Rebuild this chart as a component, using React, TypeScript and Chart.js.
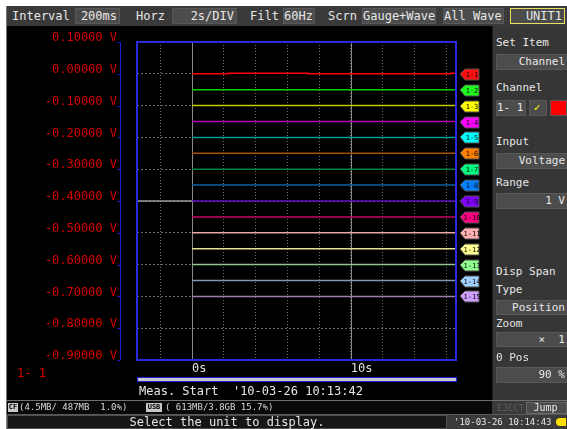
import React, { useEffect, useRef } from 'react';
import { Chart, registerables } from 'chart.js';

Chart.register(...registerables);

// ---------- data ----------
const channelNames = ['1- 1', '1- 2', '1- 3', '1- 4', '1- 5', '1- 6', '1- 7', '1- 8', '1- 9', '1-10', '1-11', '1-12', '1-13', '1-14', '1-15'];
const channelLevels = [0.0, -0.05, -0.1, -0.15, -0.2, -0.25, -0.3, -0.35, -0.4, -0.45, -0.5, -0.55, -0.6, -0.65, -0.7];
const traceColors = ['#ff0000', '#00d400', '#c8c800', '#b000b0', '#009a9a', '#a05000', '#008040', '#1060a0', '#6010c0', '#c80064', '#e8a8a8', '#e0e090', '#90c890', '#8098b8', '#9a80b0'];
const tagColors = ['#ff1010', '#20ff20', '#ffff00', '#ff00ff', '#00ffff', '#ff8000', '#00ff80', '#0080ff', '#8000ff', '#ff0080', '#ffb0b0', '#ffff90', '#90ff90', '#a0d0ff', '#d0a0ff'];
const ch1Times = [0, 2.3, 2.3, 7.3, 7.3, 16.3, 16.3, 16.63];
const ch1Values = [0, 0, 0.0015, 0.0015, 0, 0, 0.0015, 0.0015];
const preTriggerTimes = [-3.47, 0];
const preTriggerValues = [-0.4, -0.4];
const voltMin = -0.9;
const voltMax = 0.1;
const voltStep = 0.1;
const timeMin = -3.47;
const timeMax = 16.63;
const timeStep = 2;
const timeLabels: Record<string, string> = { '0': '0s', '10': '10s' };
const markerTimes = [0, 10];

const mono = '"DejaVu Sans Mono", monospace';

const overlayPlugin = {
  id: 'overlay',
  beforeDatasetsDraw(chart: any) {
    const { ctx, chartArea: a, scales } = chart;
    ctx.save();
    ctx.strokeStyle = '#8a8a8a';
    ctx.lineWidth = 1;
    markerTimes.forEach((t) => {
      const x = Math.round(scales.x.getPixelForValue(t)) + 0.5;
      ctx.beginPath();
      ctx.moveTo(x, a.top);
      ctx.lineTo(x, a.bottom);
      ctx.stroke();
    });
    ctx.restore();
  },
  afterDatasetsDraw(chart: any) {
    const { ctx, chartArea: a, scales } = chart;
    ctx.save();
    // frame
    ctx.strokeStyle = '#2a2ae0';
    ctx.lineWidth = 2;
    ctx.strokeRect(a.left, a.top, a.right - a.left, a.bottom - a.top);
    // axis bracket
    const bx = a.left - 16.5;
    ctx.strokeStyle = '#1c1cd0';
    ctx.lineWidth = 1;
    ctx.beginPath();
    ctx.moveTo(bx, a.top);
    ctx.lineTo(bx, a.bottom);
    scales.y.ticks.forEach((tk: any) => {
      const y = Math.round(scales.y.getPixelForValue(tk.value)) + 0.5;
      ctx.moveTo(bx - 3, y);
      ctx.lineTo(bx, y);
    });
    ctx.stroke();
    // channel tags
    channelLevels.forEach((lv, i) => {
      const y = Math.round(scales.y.getPixelForValue(lv));
      const x0 = a.right + 4;
      const x1 = x0 + 19;
      ctx.beginPath();
      ctx.moveTo(x0, y);
      ctx.lineTo(x0 + 5, y - 5);
      ctx.lineTo(x1, y - 5);
      ctx.lineTo(x1, y + 6);
      ctx.lineTo(x0 + 5, y + 6);
      ctx.closePath();
      ctx.fillStyle = tagColors[i];
      ctx.fill();
      ctx.strokeStyle = '#505050';
      ctx.lineWidth = 1;
      ctx.stroke();
      ctx.fillStyle = '#000';
      ctx.font = '7px "DejaVu Sans Mono"';
      ctx.textAlign = 'center';
      ctx.textBaseline = 'middle';
      ctx.fillText(channelNames[i].replace(' ', ''), x0 + 12, y + 1);
    });
    ctx.restore();
  },
};

function ChartView() {
  const ref = useRef<HTMLCanvasElement>(null);
  useEffect(() => {
    if (!ref.current) return;
    const datasets: any[] = channelLevels.map((lv, i) => ({
      label: channelNames[i],
      data: i === 0
        ? ch1Times.map((t, k) => ({ x: t, y: ch1Values[k] }))
        : [{ x: 0, y: lv }, { x: timeMax, y: lv }],
      borderColor: traceColors[i],
      borderWidth: 1.5,
      pointRadius: 0,
      tension: 0,
    }));
    datasets.push({
      label: 'pre',
      data: preTriggerTimes.map((t, k) => ({ x: t, y: preTriggerValues[k] })),
      borderColor: '#9a9a9a',
      borderWidth: 1.5,
      pointRadius: 0,
    });
    const chart = new Chart(ref.current, {
      type: 'line',
      data: { datasets },
      plugins: [overlayPlugin],
      options: {
        animation: false,
        responsive: false,
        devicePixelRatio: 1,
        layout: { padding: { top: 16, right: 36, left: 0, bottom: 0 } },
        plugins: { legend: { display: false }, tooltip: { enabled: false } },
        scales: {
          x: {
            type: 'linear',
            min: timeMin,
            max: timeMax,
            afterFit: (s: any) => { s.height = 40; s.paddingLeft = 0; s.paddingRight = 0; },
            ticks: {
              stepSize: timeStep,
              includeBounds: false,
              autoSkip: false,
              maxRotation: 0,
              align: 'start',
              padding: 2,
              color: '#e0e0e0',
              font: { family: 'DejaVu Sans Mono', size: 12 },
              callback: (v: any) => timeLabels[String(Math.round(Number(v) * 1000) / 1000)] ?? '',
            },
            grid: { color: '#6a6a6a', lineWidth: 1, drawTicks: false },
            border: { display: false, dash: [1, 2] },
          },
          y: {
            type: 'linear',
            min: voltMin,
            max: voltMax,
            afterFit: (s: any) => { s.width = 130; s.paddingTop = 0; s.paddingBottom = 0; },
            ticks: {
              stepSize: voltStep,
              autoSkip: false,
              padding: 20,
              labelOffset: -4,
              color: '#d80000',
              font: { family: 'DejaVu Sans Mono', size: 12 },
              callback: (v: any) => {
                const n = Math.abs(Number(v)) < 1e-9 ? 0 : Number(v);
                return n.toFixed(5) + ' V';
              },
            },
            grid: { color: '#6a6a6a', lineWidth: 1, drawTicks: false },
            border: { display: false, dash: [2, 2] },
          },
        },
      } as any,
    });
    return () => chart.destroy();
  }, []);
  return <canvas ref={ref} width={485} height={374} style={{ position: 'absolute', left: 7, top: 26, width: 485, height: 374 }} />;
}

function Txt(p: { l: number; t: number; h?: number; s?: number; c?: string; children: any; w?: number; align?: any }) {
  const h = p.h ?? 16;
  return (
    <div style={{ position: 'absolute', left: p.l, top: p.t, height: h, lineHeight: h + 'px', fontSize: p.s ?? 12, color: p.c ?? '#e6e6e6', whiteSpace: 'pre', width: p.w, textAlign: p.align }}>
      {p.children}
    </div>
  );
}

function Box(p: { l: number; t: number; w: number; h: number; s?: number; bg?: string; border?: string; children?: any; align?: any }) {
  return (
    <div style={{
      position: 'absolute', left: p.l, top: p.t, width: p.w, height: p.h, boxSizing: 'border-box',
      background: p.bg ?? '#4c4c4c', border: p.border ?? '1px solid #585858', color: '#e8e8e8',
      fontSize: p.s ?? 12, lineHeight: (p.h - 2) + 'px', textAlign: p.align ?? 'right', paddingRight: 2, whiteSpace: 'pre', overflow: 'hidden',
    }}>
      {p.children}
    </div>
  );
}

export default function App() {
  return (
    <div style={{ position: 'fixed', left: 0, top: 0, width: 567, height: 429, background: '#ffffff', fontFamily: mono, overflow: 'hidden' }}>
      <div style={{ position: 'absolute', left: 6, top: 6, width: 561, height: 423, background: '#3a3a3a' }} />
      <div style={{ position: 'absolute', left: 6, top: 6, width: 1, height: 423, background: '#7a7a7a' }} />
      {/* top bar */}
      <Txt l={12} t={8}>Interval</Txt>
      <Box l={75} t={8} w={45} h={16}>200ms</Box>
      <Txt l={136} t={8}>Horz</Txt>
      <Box l={172} t={8} w={65} h={16}>2s/DIV</Box>
      <Txt l={250} t={8}>Filt</Txt>
      <Box l={283} t={8} w={32} h={16}>60Hz</Box>
      <Txt l={328} t={8}>Scrn</Txt>
      <Box l={362} t={8} w={74} h={16} align="left">Gauge+Wave</Box>
      <Box l={443} t={8} w={61} h={16} align="center">All Wave</Box>
      <Box l={510} t={8} w={55} h={16} border="1px solid #e8e060">UNIT1</Box>
      {/* main black */}
      <div style={{ position: 'absolute', left: 7, top: 26, width: 485, height: 374, background: '#000' }} />
      <ChartView />
      <Txt l={17} t={365} s={12} c="#e00000">1- 1</Txt>
      <div style={{ position: 'absolute', left: 137, top: 377, width: 320, height: 5, background: '#c8c8c8', border: '1px solid #2020e0', boxSizing: 'border-box' }} />
      <Txt l={139} t={384} h={15}>Meas. Start  '10-03-26 10:13:42</Txt>
      {/* right panel */}
      <div style={{ position: 'absolute', left: 492, top: 26, width: 75, height: 374, background: '#363636', borderLeft: '1px solid #202020', boxSizing: 'border-box' }} />
      <Txt l={496} t={35} s={11}>Set Item</Txt>
      <Box l={496} t={54} w={72} h={16} s={11}>Channel</Box>
      <Txt l={496} t={80} s={11}>Channel</Txt>
      <Box l={496} t={100} w={30} h={16} s={11} align="left">1- 1</Box>
      <Box l={529} t={100} w={18} h={16} s={11} align="center"><span style={{ color: '#ffff00' }}>✓</span></Box>
      <div style={{ position: 'absolute', left: 550, top: 100, width: 17, height: 16, background: '#ff0000', border: '1px solid #585858', boxSizing: 'border-box' }} />
      <Txt l={496} t={134} s={11}>Input</Txt>
      <Box l={496} t={153} w={72} h={16} s={11}>Voltage</Box>
      <Txt l={496} t={175} s={11}>Range</Txt>
      <Box l={496} t={193} w={72} h={16} s={11}>1 V</Box>
      <Txt l={496} t={264} s={11}>Disp Span</Txt>
      <Txt l={496} t={282} s={11}>Type</Txt>
      <Box l={496} t={300} w={72} h={15} s={11}>Position</Box>
      <Txt l={496} t={316} s={11}>Zoom</Txt>
      <Box l={496} t={332} w={72} h={15} s={11}>×  1</Box>
      <Txt l={496} t={350} s={11}>0 Pos</Txt>
      <Box l={496} t={367} w={72} h={16} s={11}>90 %</Box>
      {/* bottom rows */}
      <div style={{ position: 'absolute', left: 6, top: 400, width: 561, height: 1, background: '#707070' }} />
      <div style={{ position: 'absolute', left: 7, top: 401, width: 485, height: 13, background: '#080808' }} />
      <div style={{ position: 'absolute', left: 8, top: 403, width: 10, height: 9, background: '#c8c8c8', color: '#000', fontSize: 7, lineHeight: '9px', textAlign: 'center', fontWeight: 'bold' }}>CF</div>
      <Txt l={19} t={401} h={13} s={9} c="#d8d8d8">(4.5MB/ 487MB  1.0%)</Txt>
      <div style={{ position: 'absolute', left: 146, top: 403, width: 16, height: 9, background: '#c8c8c8', color: '#000', fontSize: 7, lineHeight: '9px', textAlign: 'center', fontWeight: 'bold' }}>USB</div>
      <Txt l={165} t={401} h={13} s={9} c="#d8d8d8">( 613MB/3.8GB 15.7%)</Txt>
      <Txt l={497} t={402} h={12} s={9} c="#5c5c5c">EJECT</Txt>
      <Box l={526} t={402} w={41} h={12} s={10} align="center" border="1px solid #6a6a6a">Jump</Box>
      <div style={{ position: 'absolute', left: 6, top: 414, width: 561, height: 1, background: '#5a5a5a' }} />
      <div style={{ position: 'absolute', left: 7, top: 415, width: 440, height: 14, background: '#161616', border: '1px solid #505050', boxSizing: 'border-box', color: '#e6e6e6', fontSize: 12, lineHeight: '12px', textAlign: 'center', whiteSpace: 'pre' }}>Select the unit to display.</div>
      <Txt l={454} t={415} h={14} s={9}>'10-03-26 10:14:43</Txt>
      <div style={{ position: 'absolute', left: 556, top: 418, width: 10, height: 8, background: '#ffe000', borderRadius: '4px 0 0 4px' }} />
    </div>
  );
}
